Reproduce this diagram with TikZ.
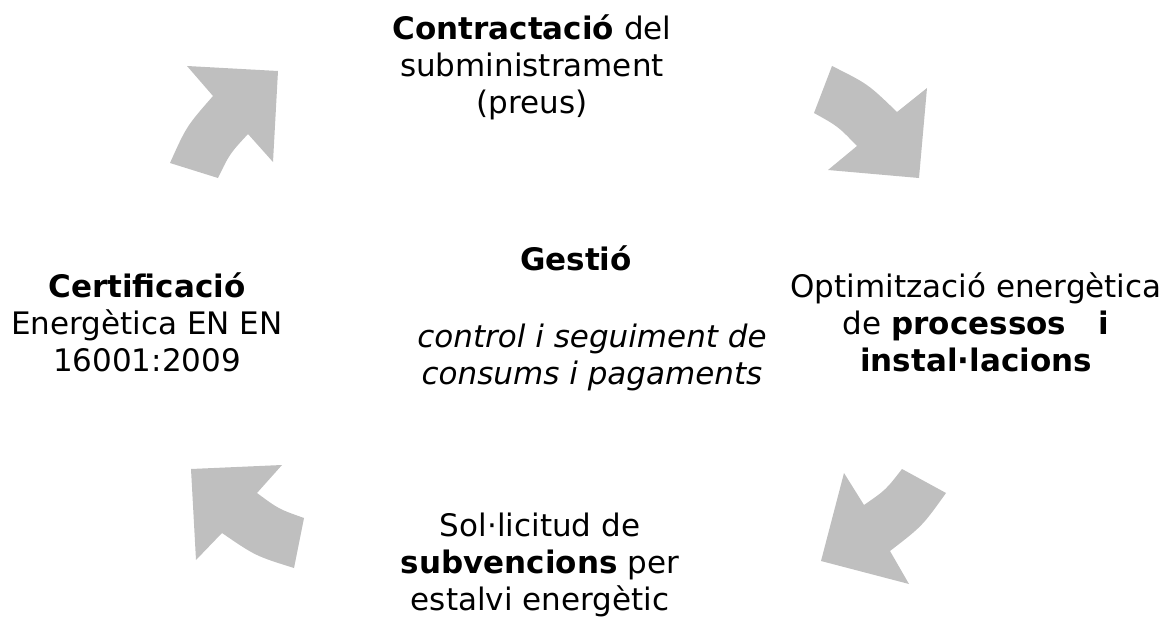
\documentclass[tikz,border=0pt]{standalone}
\usepackage{fontspec}
\setmainfont{DejaVu Sans}
\begin{document}
\begin{tikzpicture}[x=1pt,y=-1pt,
  cyclearrow/.style={fill=arrowgray,draw=none},
  label/.style={inner sep=0pt,align=center,font=\fontsize{31}{37}\selectfont}]
\definecolor{arrowgray}{RGB}{191,191,191}
\useasboundingbox (0,0) rectangle (1165,626);
% arrow top-left
\fill[cyclearrow] (187,66) -- (278,71) -- (273,162) -- (248,134)
  .. controls (229.7,153.8) .. (218,178) -- (170,163)
  .. controls (186.5,126.3) .. (213,96) -- cycle;
% arrow top-right
\fill[cyclearrow] (832,66) .. controls (868,84) .. (897,112) -- (927,88)
  -- (919,178) -- (828,170) -- (857,146)
  .. controls (838,126.3) .. (814,113) -- cycle;
% arrow bottom-right
\fill[cyclearrow] (902,469) -- (946,493) .. controls (922.3,526.1) .. (890,551)
  -- (909,584) -- (821,561) -- (844,473) -- (864,505)
  .. controls (885.8,489.9) .. (902,469) -- cycle;
% arrow bottom-left
\fill[cyclearrow] (191,469) -- (282,465) -- (257,493)
  .. controls (278.6,509) .. (304,518) -- (294,568)
  .. controls (255.4,555.9) .. (222,533) -- (196,560) -- cycle;
% texts
\node[label] (top) at (532,67) {\textbf{Contractació} del\\subministrament\\(preus)};
\node[label] (left) at (147,322) {\textbf{Certificació}\\Energètica EN EN\\16001:2009};
\node[label] (right) at (976,322) {Optimització energètica\\de \textbf{processos\ \ \ i}\\\textbf{instal·lacions}};
\node[label] (bottom) at (540,565) {Sol·licitud de\\\textbf{subvencions} per\\estalvi energètic};
\node[label] (gestio) at (576,258) {\textbf{Gestió}};
\node[label] (control) at (592,357) {\textit{control i seguiment de}\\\textit{consums i pagaments}};
\end{tikzpicture}
\end{document}
